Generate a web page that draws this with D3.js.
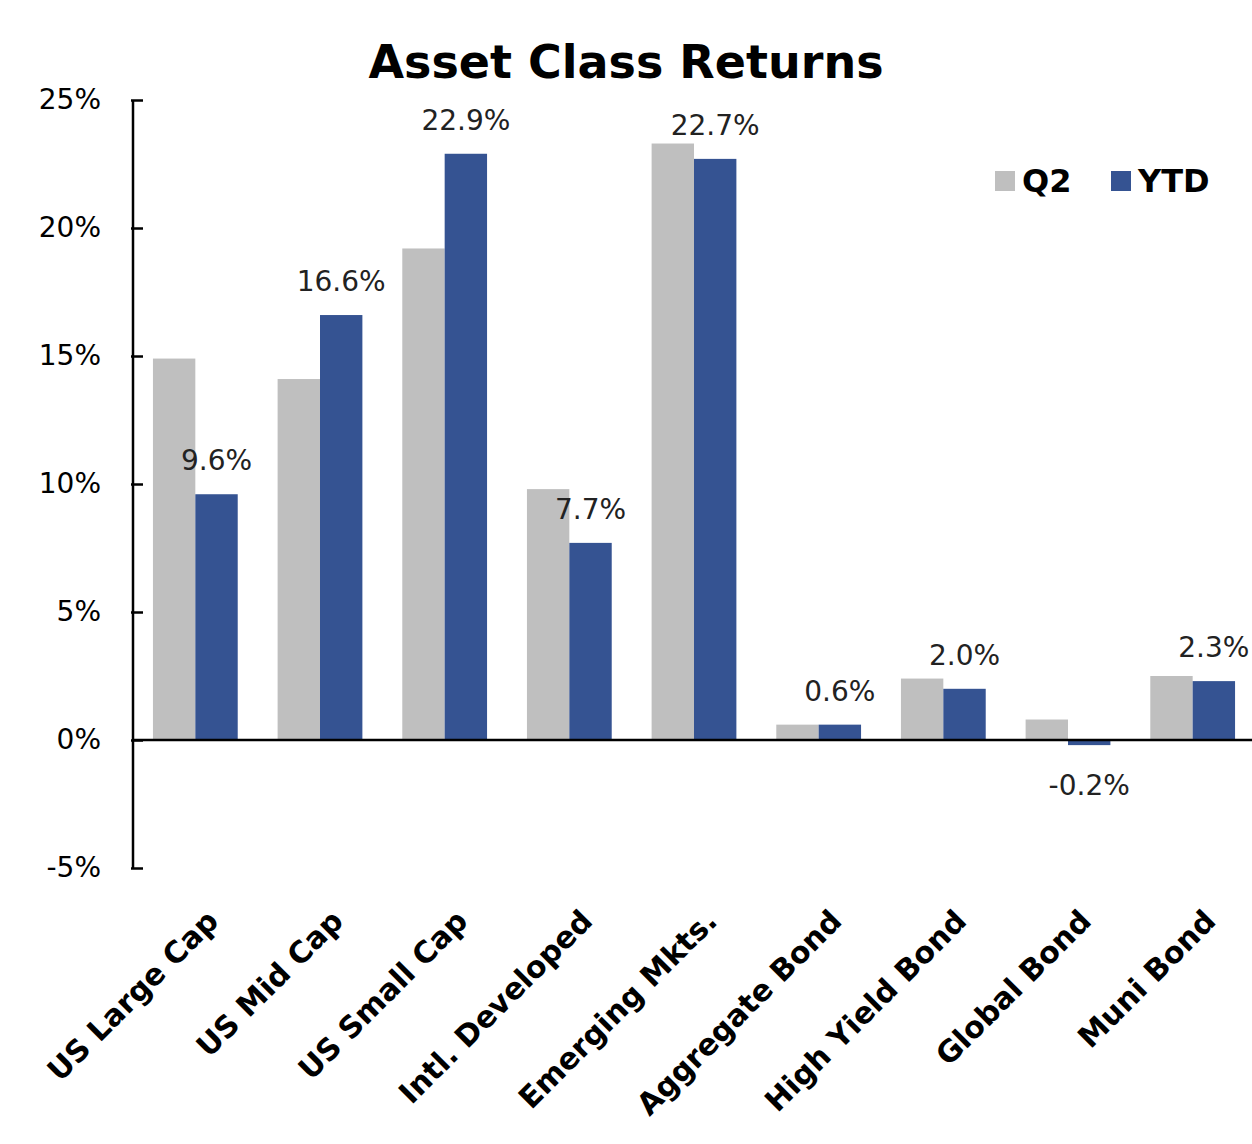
<!DOCTYPE html><html><head><meta charset="utf-8">
<script src="https://cdn.jsdelivr.net/npm/d3@7"></script>
<style>body{margin:0;background:#fff}</style></head><body>
<svg id="c" width="1252" height="1144"></svg>
<script>
const categories=["US Large Cap","US Mid Cap","US Small Cap","Intl. Developed","Emerging Mkts.","Aggregate Bond","High Yield Bond","Global Bond","Muni Bond"];
const q2=[14.9,14.1,19.2,9.8,23.3,0.6,2.4,0.8,2.5];
const ytd=[9.6,16.6,22.9,7.7,22.7,0.6,2.0,-0.2,2.3];
const yTicks=[-5,0,5,10,15,20,25];
const series=["Q2","YTD"];
const colors={Q2:"#bfbfbf",YTD:"#355392"};
const svg=d3.select("#c");
const F="DejaVu Sans, Verdana, sans-serif";
const y=d3.scaleLinear().domain([-5,25]).range([868,100]);
const x=d3.scaleBand().domain(categories).range([133,1255]).paddingInner(0.32).paddingOuter(0.16);
const xs=d3.scaleBand().domain(series).range([0,x.bandwidth()]);
svg.append("text").attr("x",626).attr("y",78).attr("text-anchor","middle").attr("font-family",F).attr("font-weight","bold").attr("font-size",46).text("Asset Class Returns");
const ya=svg.append("g").attr("transform","translate(133,0)").call(d3.axisLeft(y).tickValues(yTicks).tickSize(10).tickFormat(d=>d+"%"));
ya.select(".domain").attr("stroke","#000").attr("stroke-width",2.5).attr("d","M0,100V868");
ya.selectAll(".tick line").attr("stroke-width",2.5).attr("x1",-2).attr("x2",10);
ya.selectAll(".tick text").attr("font-family",F).attr("font-size",28).attr("x",-32).attr("fill","#000");
const g=svg.append("g");
categories.forEach((c,i)=>{
  [["Q2",q2[i]],["YTD",ytd[i]]].forEach(([s,v])=>{
    g.append("rect").attr("x",x(c)+xs(s)).attr("width",xs.bandwidth()).attr("y",Math.min(y(v),y(0))).attr("height",Math.abs(y(v)-y(0))).attr("fill",colors[s]);
  });
  const v=ytd[i];
  g.append("text").attr("x",x(c)+xs("YTD")+xs.bandwidth()/2).attr("y",v>=0?y(v)-24:y(v)+50).attr("text-anchor","middle").attr("font-family",F).attr("font-size",28).attr("fill","#222").text(v.toFixed(1)+"%");
});
svg.append("line").attr("x1",133).attr("x2",1252).attr("y1",y(0)).attr("y2",y(0)).attr("stroke","#000").attr("stroke-width",2.5);
categories.forEach(c=>{
  const cx=x(c)+x.bandwidth()/2+10;
  svg.append("text").attr("transform",`translate(${cx},908) rotate(-45)`).attr("text-anchor","end").attr("dy","0.7em").attr("font-family",F).attr("font-weight","bold").attr("font-size",30).text(c);
});
const lg=[["Q2",995],["YTD",1111]];
lg.forEach(([s,lx])=>{
  svg.append("rect").attr("x",lx).attr("y",171).attr("width",20).attr("height",20).attr("fill",colors[s]);
  svg.append("text").attr("x",lx+27).attr("y",192).attr("font-family",F).attr("font-weight","bold").attr("font-size",32).text(s);
});
</script></body></html>
